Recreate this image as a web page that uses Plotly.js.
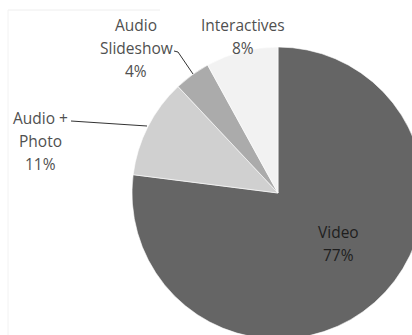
<!DOCTYPE html>
<html>
<head>
<meta charset="utf-8">
<script src="https://cdn.plot.ly/plotly-3.0.1.min.js"></script>
<style>
html,body{margin:0;padding:0;overflow:hidden;background:#fff;}
#chart{width:440px;height:360px;}
</style>
</head>
<body>
<div id="chart"></div>
<script>
// Data
const categories = ["Video", "Audio + Photo", "Audio Slideshow", "Interactives"];
const shares = [77, 11, 4, 8];
const sliceColors = ["#656565", "#d0d0d0", "#ababab", "#f2f2f2"];
const labelLines = [["Video", "77%"], ["Audio +", "Photo", "11%"], ["Audio", "Slideshow", "4%"], ["Interactives", "8%"]];

const W = 440, H = 360;
const px = x => x / W;
const py = y => 1 - y / H;

// label placement (pixel positions of the first line centre)
const labelPos = [
  {x: 338, y: 232, color: "#1e1e1e"},
  {x: 40, y: 118, color: "#505050"},
  {x: 136, y: 25, color: "#505050"},
  {x: 243, y: 25, color: "#505050"}
];
const lineGap = 23;

const annotations = [];
categories.forEach((c, i) => {
  labelLines[i].forEach((t, k) => {
    annotations.push({
      xref: "paper", yref: "paper",
      x: px(labelPos[i].x), y: py(labelPos[i].y + k * lineGap),
      xanchor: "center", yanchor: "middle",
      text: t, showarrow: false,
      font: {family: "Open Sans, sans-serif", size: 15.5, color: labelPos[i].color}
    });
  });
});

const pathFrom = pts => pts.map((p, j) => (j ? "L" : "M") + px(p[0]) + "," + py(p[1])).join(" ");

const shapes = [
  // leader line Audio + Photo
  {type: "path", xref: "paper", yref: "paper", path: pathFrom([[71, 121], [147, 126]]), line: {color: "#333", width: 1}},
  // leader line Audio Slideshow
  {type: "path", xref: "paper", yref: "paper", path: pathFrom([[174, 51], [178, 52], [193, 74]]), line: {color: "#333", width: 1}},
  // faint frame
  {type: "path", xref: "paper", yref: "paper", path: pathFrom([[8, 10], [160, 10]]), line: {color: "#eeeeee", width: 1}},
  {type: "path", xref: "paper", yref: "paper", path: pathFrom([[8, 10], [8, 335]]), line: {color: "#f2f2f2", width: 1}}
];

const cx = 278, cy = 193, r = 146;
const trace = {
  type: "pie",
  labels: categories,
  values: shares,
  sort: false,
  direction: "clockwise",
  rotation: 0,
  textinfo: "none",
  hoverinfo: "label+percent",
  marker: {colors: sliceColors, line: {color: "#ffffff", width: 0.6}},
  domain: {x: [px(cx - r), px(cx + r)], y: [py(cy + r), py(cy - r)]},
  showlegend: false
};

Plotly.newPlot("chart", [trace], {
  width: W, height: H,
  margin: {l: 0, r: 0, t: 0, b: 0},
  paper_bgcolor: "#ffffff",
  showlegend: false,
  annotations: annotations,
  shapes: shapes
}, {displayModeBar: false, staticPlot: true});
</script>
</body>
</html>
